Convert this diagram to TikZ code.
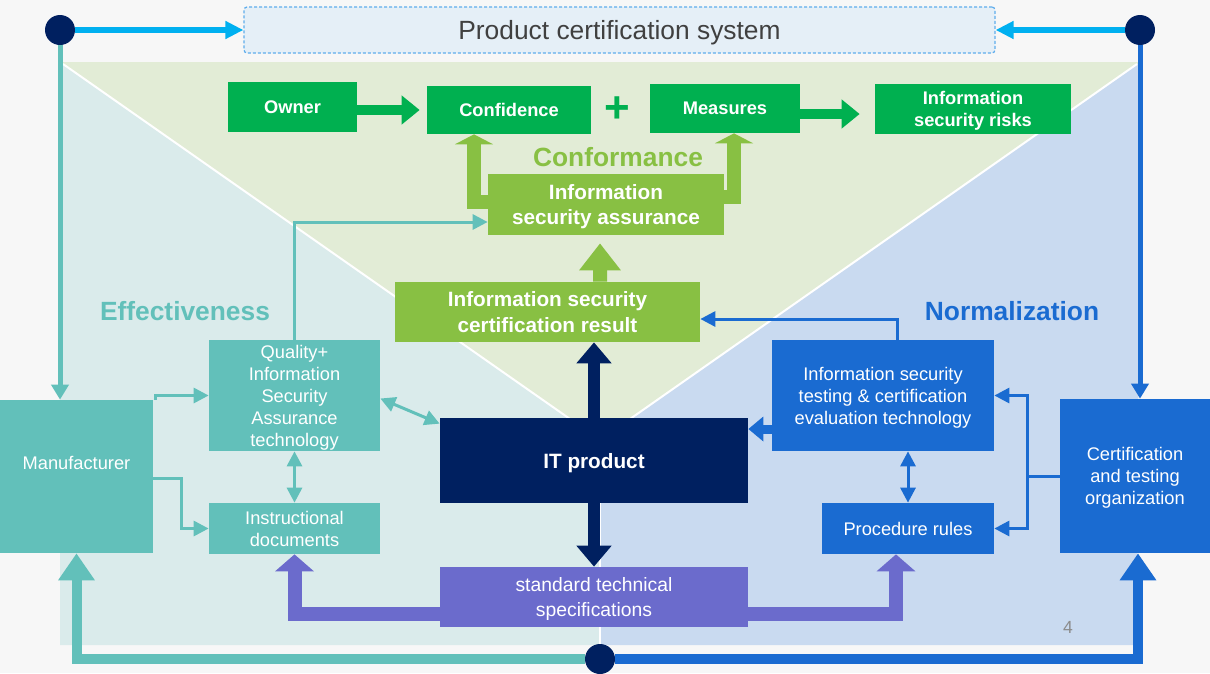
\documentclass[tikz,border=0pt]{standalone}
\usepackage{fontspec}
\setmainfont{Liberation Sans}
\usetikzlibrary{arrows.meta}

\newlength{\pxu}
\setlength{\pxu}{0.02cm}

\definecolor{cbg}{HTML}{F7F7F7}
\definecolor{cgreenbg}{HTML}{E2ECD6}
\definecolor{ctealbg}{HTML}{DAEBEB}
\definecolor{cbluebg}{HTML}{C9DAF0}
\definecolor{ccyan}{HTML}{00B0F0}
\definecolor{cnavy}{HTML}{002060}
\definecolor{cgreen}{HTML}{00B050}
\definecolor{clgreen}{HTML}{88C043}
\definecolor{cteal}{HTML}{62C0BA}
\definecolor{cblue}{HTML}{1A6BD1}
\definecolor{cpurple}{HTML}{6B6BCC}
\definecolor{cpcs}{HTML}{E5EFF7}
\definecolor{cpcsline}{HTML}{5FADEC}
\definecolor{ctext}{HTML}{404040}

\begin{document}
\begin{tikzpicture}[x=0.02cm, y=-0.02cm,
    box/.style={rectangle, inner sep=0pt, align=center, text=white, text depth=0pt},
    sz/.style 2 args={minimum width=#1\pxu, minimum height=#2\pxu},
    gbox/.style={box, fill=cgreen, font=\bfseries\fontsize{10.4}{12.7}\selectfont},
    lgbox/.style={box, fill=clgreen, font=\bfseries\fontsize{11.8}{14.7}\selectfont},
    tbox/.style={box, fill=cteal, font=\fontsize{10.4}{12.5}\selectfont},
    bbox/.style={box, fill=cblue, font=\fontsize{10.4}{12.5}\selectfont},
    dot/.style={circle, fill=cnavy, minimum size=30\pxu, inner sep=0pt},
    bigtxt/.style={font=\bfseries\fontsize{15}{18}\selectfont},
    cyarr/.style={draw=ccyan, line width=6\pxu, >={Triangle[width=0.34cm,length=0.36cm]}},
    tvert/.style={draw=cteal, line width=5\pxu, >={Triangle[width=0.34cm,length=0.3cm]}},
    bvert/.style={draw=cblue, line width=5\pxu, >={Triangle[width=0.34cm,length=0.3cm]}},
    tthick/.style={draw=cteal, line width=10\pxu, >={Triangle[width=0.7cm,length=0.54cm]}},
    bthick/.style={draw=cblue, line width=10\pxu, >={Triangle[width=0.7cm,length=0.54cm]}},
    garr/.style={draw=cgreen, line width=10\pxu, >={Triangle[width=0.56cm,length=0.36cm]}},
    lgarr/.style={draw=clgreen, line width=14\pxu, >={Triangle[width=0.76cm,length=0.2cm]}},
    lgup/.style={draw=clgreen, line width=14\pxu, >={Triangle[width=0.8cm,length=0.54cm]}},
    narr/.style={draw=cnavy, line width=12\pxu, >={Triangle[width=0.68cm,length=0.42cm]}},
    parr/.style={draw=cpurple, line width=14\pxu, >={Triangle[width=0.76cm,length=0.34cm]}},
    tl/.style={draw=cteal, line width=3\pxu, >={Triangle[width=0.3cm,length=0.3cm]}},
    bl/.style={draw=cblue, line width=3\pxu, >={Triangle[width=0.3cm,length=0.3cm]}},
    bmed/.style={draw=cblue, line width=9\pxu, >={Triangle[width=0.48cm,length=0.3cm]}}]

    \useasboundingbox (0,0) rectangle (1210,673);
    \fill[cbg] (0,0) rectangle (1210,673);

    % background areas
    \fill[cgreenbg] (60,62) -- (1140,62) -- (600,440) -- cycle;
    \fill[ctealbg] (60,62) -- (600,440) -- (600,645) -- (60,645) -- cycle;
    \fill[cbluebg] (1140,62) -- (600,440) -- (600,645) -- (1137,645) -- cycle;
    \draw[white, line width=2\pxu] (63,64) -- (600,440) -- (1137,64);
    \draw[white, line width=2\pxu] (600,440) -- (600,645);

    % top row
    \node[draw=cpcsline, fill=cpcs, dash pattern=on 3\pxu off 2\pxu, line width=1.2\pxu,
          rounded corners=3\pxu, sz={751}{46}, inner sep=0pt, text=ctext, text depth=0pt,
          font=\fontsize{15}{18}\selectfont] (pcs) at (619.5,30) {Product certification system};
    \node[dot] (dl) at (60,30) {};  % left corner
    \node[dot] (dr) at (1140,30) {}; % right corner
    \node[dot] (db) at (600,659) {}; % bottom joint

    % conformance part
    \node[gbox, sz={129}{50}] (owner) at (292.5,107) {Owner};
    \node[gbox, sz={164}{48}] (conf) at (509,110) {Confidence};
    \node[gbox, sz={150}{49}] (meas) at (725,108.5) {Measures};
    \node[gbox, sz={196}{50}] (risk) at (973,109) {Information\\security risks};
    \node[font=\bfseries\fontsize{25}{25}\selectfont, text=cgreen] (lplus) at (617,110) {+};
    \node[bigtxt, text=clgreen] (lconf) at (618,157) {Conformance};
    \node[lgbox, sz={236}{61}] (isa) at (606,204.5) {Information\\security assurance};
    \node[lgbox, sz={305}{60}] (iscr) at (547.5,312) {Information security\\certification result};

    % middle
    \node[box, fill=cnavy, sz={308}{85}, font=\bfseries\fontsize{11.8}{14.7}\selectfont] (it) at (594,460.5) {IT product};
    \node[box, fill=cpurple, sz={308}{60}, font=\fontsize{11}{14}\selectfont] (sts) at (594,597) {standard technical\\specifications};

    % effectiveness part
    \node[bigtxt, text=cteal] (leff) at (185,311) {Effectiveness};
    \node[tbox, sz={153}{153}, text depth=27\pxu] (man) at (76.5,476.5) {Manufacturer};
    \node[tbox, sz={171}{111}] (qisa) at (294.5,395.5) {Quality+\\Information\\Security\\Assurance\\technology};
    \node[tbox, sz={171}{51}] (id) at (294.5,528.5) {Instructional\\documents};

    % normalization part
    \node[bigtxt, text=cblue] (lnorm) at (1012,311) {Normalization};
    \node[bbox, sz={222}{111}] (istce) at (883,395.5) {Information security\\testing \& certification\\evaluation technology};
    \node[bbox, sz={172}{51}] (pr) at (908,528.5) {Procedure rules};
    \node[bbox, sz={150}{154}] (cto) at (1135,476) {Certification\\and testing\\organization};

    \node[font=\fontsize{10}{12}\selectfont, text=black!45] (lpage) at (1068,627) {4};

    % frame arrows
    \draw[cyarr, ->] (dl) -- (pcs);
    \draw[cyarr, ->] (dr) -- (pcs);
    \draw[tvert, ->] (dl) -- (dl |- man.north);
    \draw[bvert, ->] (dr) -- (dr |- cto.north);
    \draw[tthick, ->] (db) -| (man.south);
    \draw[bthick, ->] (db) -| ([xshift=3\pxu]cto.south);

    % thick arrows
    \draw[garr, ->, shorten >=7\pxu] (owner.east |- conf.west) -- (conf.west);
    \draw[garr, ->, shorten >=15\pxu] (meas.east |- 0,114) -- (risk.west |- 0,114);
    \draw[lgarr, ->] ([yshift=3\pxu]isa.west) -| ([xshift=-35\pxu]conf.south);
    \draw[lgarr, ->] ([yshift=8\pxu]isa.east) -| ([xshift=9\pxu]meas.south);
    \draw[lgup, ->, shorten >=8\pxu] ([xshift=52.5\pxu]iscr.north) -- ([xshift=-6\pxu]isa.south);
    \draw[narr, ->] (it.north) -- (it.north |- iscr.south);
    \draw[narr, ->] (it.south) -- (sts.north);
    \draw[parr, ->] ([yshift=-17\pxu]sts.west) -| (id.south);
    \draw[parr, ->] ([yshift=-17\pxu]sts.east) -| ([xshift=-12\pxu]pr.south);

    % thin arrows, left
    \draw[tl, ->] ([xshift=2\pxu]man.north east) |- (qisa.west);
    \draw[tl, ->] (man.east |- 0,478) -- ++(28,0) |- (id.west);
    \draw[tl, <->] (qisa.south) -- (id.north);
    \draw[tl, <->] ([yshift=-3\pxu]qisa.east) -- ([yshift=-6\pxu]it.north west);
    \draw[tl, ->] (qisa.north) |- ([yshift=-17.5\pxu]isa.west);

    % thin arrows, right
    \draw[bl, ->] ([xshift=14\pxu]istce.north) |- ([yshift=-7\pxu]iscr.east);
    \draw[bmed, ->] (istce.west |- 0,429) -- (it.east |- 0,429);
    \draw[bl, <->] (pr.north |- istce.south) -- (pr.north);
    \draw[bl, ->] (cto.west) -- ++(-32,0) coordinate (cj) |- (istce.east);
    \draw[bl, ->] (cj) |- (pr.east);
\end{tikzpicture}
\end{document}
